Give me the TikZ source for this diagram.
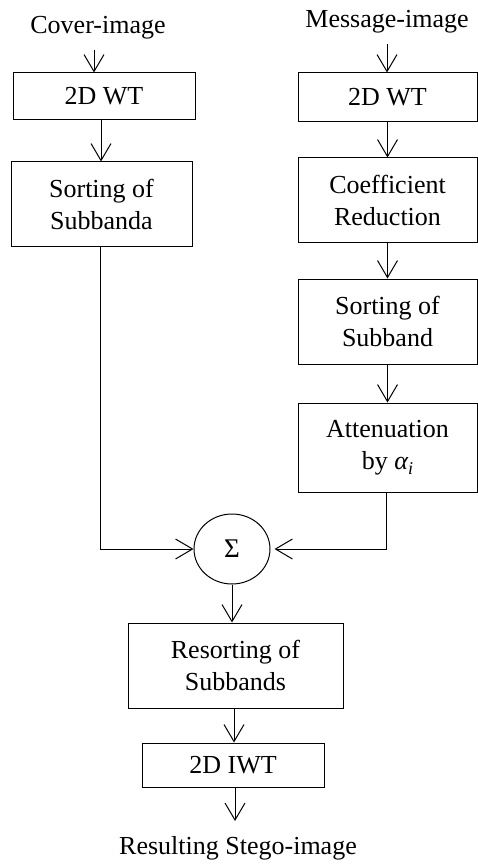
\documentclass[tikz,border=0pt]{standalone}
\usepackage{fontspec}
\setmainfont{Liberation Serif}
\usetikzlibrary{arrows.meta,shapes.geometric}
\tikzset{
  box/.style={draw, line width=1pt, inner sep=0pt, align=center, font=\fontsize{26}{32}\selectfont},
  lbl/.style={inner sep=0pt, font=\fontsize{26}{32}\selectfont},
  conn/.style={line width=1pt, -{Straight Barb[length=17pt,width=20pt,line width=1pt]}},
  plain/.style={line width=1pt}
}
\begin{document}
\begin{tikzpicture}[x=1pt,y=-1pt]
\useasboundingbox (0,0) rectangle (478,866);
% left column
\node[lbl] (cover) at (98,28) {Cover-image};
\node[box, minimum width=182pt, minimum height=47pt] (wt1) at (104,96.5) {2D WT};
\node[box, minimum width=181pt, minimum height=85pt] (sort1) at (101.5,204.5) {Sorting of\\Subbanda};
% right column
\node[lbl] (msg) at (387,22) {Message-image};
\node[box, minimum width=179pt, minimum height=49pt] (wt2) at (387.5,97.5) {2D WT};
\node[box, minimum width=179pt, minimum height=85pt] (coef) at (387.5,200.5) {Coefficient\\Reduction};
\node[box, minimum width=179pt, minimum height=85pt] (sort2) at (387.5,321.5) {Sorting of\\Subband};
\node[box, minimum width=179pt, minimum height=89pt] (att) at (387.5,447.5) {Attenuation\\by {\itshape α}\raisebox{-5pt}{\fontsize{18}{20}\selectfont\itshape i}};
% sum
\node[ellipse, draw, line width=1pt, minimum width=76pt, minimum height=70pt, inner sep=0pt, font=\fontsize{27}{32}\selectfont] (sum) at (232,549) {Σ};
% bottom
\node[box, minimum width=215pt, minimum height=85pt] (res) at (235.5,665.5) {Resorting of\\Subbands};
\node[box, minimum width=182pt, minimum height=44pt] (iwt) at (233,765) {2D IWT};
\node[lbl] (out) at (238,848) {Resulting Stego-image};
\coordinate (outtop) at (235,821);
% connectors
\draw[conn] ([xshift=-4pt,yshift=-10pt]cover.south) -- ([xshift=-4pt]cover.south |- wt1.north);
\draw[conn] ([xshift=-3pt]wt1.south) -- ([xshift=-3pt]wt1.south |- sort1.north);
\draw[conn] ([yshift=-10pt]msg.south) -- (msg.south |- wt2.north);
\draw[conn] (wt2.south) -- (coef.north);
\draw[conn] (coef.south) -- (sort2.north);
\draw[conn] (sort2.south) -- (att.north);
\draw[conn] ([xshift=-1.5pt]sort1.south) |- (sum.west);
\draw[conn, shorten >=4pt] ([xshift=-1.5pt]att.south) |- (sum.east);
\draw[conn] (sum.south) -- (sum.south |- res.north);
\draw[conn] ([xshift=-1.5pt]res.south) -- ([xshift=-1.5pt]res.south |- iwt.north);
\draw[conn] ([xshift=2pt]iwt.south) -- ([xshift=2pt]iwt.south |- outtop);
\end{tikzpicture}
\end{document}
